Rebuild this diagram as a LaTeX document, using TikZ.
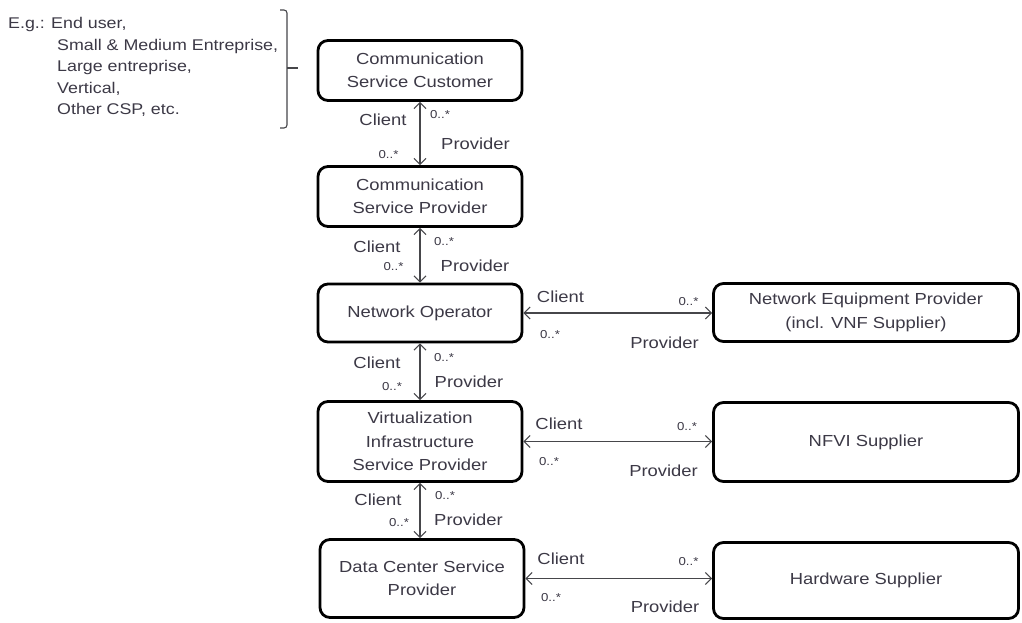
\documentclass[tikz,border=0pt]{standalone}
\usepackage{fontspec}
\setmainfont{Liberation Sans}[FakeStretch=1.15]
\usetikzlibrary{arrows.meta}
\definecolor{ink}{RGB}{60,57,70}
\definecolor{wire}{RGB}{70,70,74}
\begin{document}
\begin{tikzpicture}[x=1pt,y=-1pt,
  box/.style={draw=black, line width=2.8pt, rounded corners=10pt, fill=white,
    align=center, text=ink, font=\fontsize{16}{23.5}\selectfont, inner sep=0pt},
  lbl/.style={text=ink, font=\fontsize{16}{19}\selectfont, inner sep=0pt},
  mult/.style={text=ink, font=\fontsize{11.5}{13}\selectfont, inner sep=0pt},
  note/.style={text=ink, font=\fontsize{15.5}{19}\selectfont, inner sep=0pt, anchor=base west},
  link/.style={draw=wire, line width=1.1pt,
    {Straight Barb[length=6pt,width=12pt]}-{Straight Barb[length=6pt,width=12pt]}},
  brk/.style={draw=wire, line width=1.1pt, rounded corners=3pt},
]
% canvas
\fill[white] (0,0) rectangle (1022,623);
\useasboundingbox (0,0) rectangle (1022,623);

% left column of roles
\node[box, minimum width=204pt, minimum height=60pt] (csc) at (420,70.5)
  {Communication\\Service Customer};
\node[box, minimum width=204pt, minimum height=60pt] (csp) at (420,196.5)
  {Communication\\Service Provider};
\node[box, minimum width=204pt, minimum height=58pt] (no) at (420,313)
  {Network Operator};
\node[box, minimum width=204pt, minimum height=80pt] (visp) at (420,441.5)
  {Virtualization\\Infrastructure\\Service Provider};
\node[box, minimum width=204pt, minimum height=78pt] (dcsp) at (422,578.5)
  {Data Center Service\\Provider};

% right column of suppliers
\node[box, minimum width=305pt, minimum height=58pt] (nep) at (866,312.5)
  {Network Equipment Provider\\(incl. VNF Supplier)};
\node[box, minimum width=305pt, minimum height=79pt] (nfvi) at (866,442)
  {NFVI Supplier};
\node[box, minimum width=305pt, minimum height=76pt] (hw) at (866,580.5)
  {Hardware Supplier};

% vertical client/provider relations
\draw[link] (csc.south) -- (csp.north);
\draw[link] (csp.south) -- (no.north);
\draw[link] (no.south) -- (visp.north);
\draw[link] (visp.south) -- (visp.south |- dcsp.north);

% horizontal client/provider relations
\draw[link] (no.east) -- (no.east -| nep.west);
\draw[link] (visp.east) -- (visp.east -| nfvi.west);
\draw[link] (dcsp.east) -- (dcsp.east -| hw.west);

% labels on the vertical relations
\node[lbl]  (c1)  at (383,120)   {Client};
\node[mult] (m1a) at (440,115)   {0..*};
\node[lbl]  (p1)  at (475.5,144) {Provider};
\node[mult] (m1b) at (388.5,155) {0..*};

\node[lbl]  (c2)  at (377,247)   {Client};
\node[mult] (m2a) at (444,242)   {0..*};
\node[lbl]  (p2)  at (475,266)   {Provider};
\node[mult] (m2b) at (393.5,267) {0..*};

\node[lbl]  (c3)  at (377,363)   {Client};
\node[mult] (m3a) at (444,358)   {0..*};
\node[lbl]  (p3)  at (469,382)   {Provider};
\node[mult] (m3b) at (392,387)   {0..*};

\node[lbl]  (c4)  at (378,500)   {Client};
\node[mult] (m4a) at (445,496)   {0..*};
\node[lbl]  (p4)  at (468.5,520) {Provider};
\node[mult] (m4b) at (399,523)   {0..*};

% labels on the horizontal relations
\node[lbl]  (c5)  at (560.5,297) {Client};
\node[mult] (m5a) at (688.5,302) {0..*};
\node[mult] (m5b) at (550,335)   {0..*};
\node[lbl]  (p5)  at (664.5,343) {Provider};

\node[lbl]  (c6)  at (559,424)   {Client};
\node[mult] (m6a) at (687,427)   {0..*};
\node[mult] (m6b) at (549,462)   {0..*};
\node[lbl]  (p6)  at (663.5,471) {Provider};

\node[lbl]  (c7)  at (561,559)   {Client};
\node[mult] (m7a) at (688.5,562) {0..*};
\node[mult] (m7b) at (551,598)   {0..*};
\node[lbl]  (p7)  at (665,607)   {Provider};

% examples of customers
\node[note] (eg)  at (8,29)    {E.g.:};
\node[note] (ex1) at (51,29)   {End user,};
\node[note] (ex2) at (57,50.5) {Small \& Medium Entreprise,};
\node[note] (ex3) at (57,72)   {Large entreprise,};
\node[note] (ex4) at (57,93.5) {Vertical,};
\node[note] (ex5) at (57,115)  {Other CSP, etc.};

% bracket grouping the examples
\draw[brk] (280,10) -- (287,10) -- (287,128) -- (280,128);
\draw[brk] (287,68) -- (298,68);
\end{tikzpicture}
\end{document}
